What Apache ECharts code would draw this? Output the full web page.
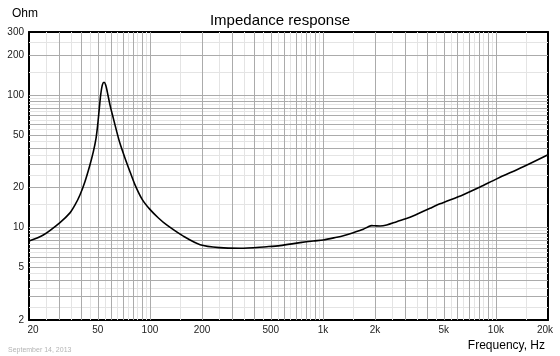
<!DOCTYPE html>
<html>
<head>
<meta charset="utf-8">
<script src="https://cdn.jsdelivr.net/npm/echarts@6/dist/echarts.min.js"></script>
<style>
html,body{margin:0;padding:0;background:#fff;}
#chart{width:560px;height:356px;}
</style>
</head>
<body>
<div id="chart"></div>
<script>
// ---- data ----
const freqHz = [20, 24.2, 30.2, 34.5, 36.9, 39.4, 42.1, 45, 47.1, 48.8, 49.9, 51, 51.9, 53.1, 54.3, 55.5, 56.7, 58.8, 61.4, 64.3, 67.1, 71.8, 76.7, 82, 90, 100, 112, 125, 156, 195, 254, 332, 473, 565, 737, 880, 1005, 1200, 1312, 1498, 1712, 1830, 1914, 2000, 2138, 2337, 2670, 3188, 4160, 4750, 6476, 8090, 10100, 14390, 20000];
const impedanceOhm = [7.9, 8.78, 10.9, 12.9, 14.8, 17.6, 22.2, 29.7, 37.4, 47.2, 59.6, 79.7, 100, 119.5, 125, 119.5, 106, 84, 67, 53, 43.3, 33.4, 26.4, 21.0, 16.4, 13.7, 11.8, 10.45, 8.6, 7.42, 7.04, 6.97, 7.16, 7.29, 7.68, 7.91, 8.05, 8.44, 8.67, 9.14, 9.70, 10.14, 10.33, 10.30, 10.27, 10.45, 11.07, 11.94, 13.98, 15.1, 17.7, 20.2, 23.3, 28.8, 35.5];

const xTickValues = [20, 50, 100, 200, 500, 1000, 2000, 5000, 10000, 20000];
const xTickLabels = ['20', '50', '100', '200', '500', '1k', '2k', '5k', '10k', '20k'];
const yTickValues = [2, 5, 10, 20, 50, 100, 200, 300];
const yTickLabels = ['2', '5', '10', '20', '50', '100', '200', '300'];

const xMin = 20, xMax = 20000, yMin = 2, yMax = 300;

// grid line values: whole steps (darker) and half steps (lighter) within each decade
function gridValues(lo, hi, half) {
  const out = [];
  for (let dec = 1; dec <= 100000; dec *= 10) {
    for (let m = 1; m <= 9.5; m += 0.5) {
      const isHalf = (m % 1) !== 0;
      if (isHalf !== half) continue;
      const v = +(m * dec).toPrecision(6);
      if (v > lo && v < hi) out.push(v);
    }
  }
  return out;
}
const xMajorGrid = gridValues(xMin, xMax, false);
const xMinorGrid = gridValues(xMin, xMax, true);
const yMajorGrid = gridValues(yMin, yMax, false);
const yMinorGrid = gridValues(yMin, yMax, true);

const FONT = 'Liberation Sans, Arial, sans-serif';

const chart = echarts.init(document.getElementById('chart'), null, {renderer: 'canvas'});

function gridSeries(xs, ys, color, z) {
  return {
    type: 'line', data: [], z: z, silent: true,
    markLine: {
      silent: true, symbol: ['none', 'none'], animation: false,
      label: {show: false},
      lineStyle: {color: color, width: 1, type: 'solid'},
      emphasis: {disabled: true},
      data: xs.map(v => ({xAxis: v})).concat(ys.map(v => ({yAxis: v})))
    }
  };
}

// edge labels are nudged inward like the reference
const xLabelItems = xTickValues.map((v, i) => {
  const item = {xAxis: v, name: xTickLabels[i]};
  if (i === 0) item.label = {offset: [4, 0]};
  if (i === xTickValues.length - 1) item.label = {offset: [-3, 0]};
  return item;
});
const yLabelItems = yTickValues.map((v, i) => ({yAxis: v, name: yTickLabels[i]}));

const option = {
  animation: false,
  backgroundColor: '#fff',
  title: [
    {text: 'Impedance response', left: 'center', top: 8,
     textStyle: {fontFamily: FONT, fontSize: 15, fontWeight: 'normal', color: '#000'}},
    {text: 'Ohm', left: 7, top: 3,
     textStyle: {fontFamily: FONT, fontSize: 12, fontWeight: 'normal', color: '#000'}},
    {text: 'Frequency, Hz', right: 10, top: 335,
     textStyle: {fontFamily: FONT, fontSize: 12, fontWeight: 'normal', color: '#000'}},
    {text: 'September 14, 2013', left: 3, top: 342,
     textStyle: {fontFamily: FONT, fontSize: 7, fontWeight: 'normal', color: '#b4b4b4'}}
  ],
  grid: {left: 29, right: 12, top: 32, bottom: 36, show: false},
  xAxis: [
    {type: 'log', logBase: 10, min: xMin, max: xMax, position: 'bottom',
     axisLine: {show: true, onZero: false, lineStyle: {color: '#000', width: 2}},
     axisTick: {show: false}, axisLabel: {show: false}, splitLine: {show: false}, minorSplitLine: {show: false}},
    {type: 'log', logBase: 10, min: xMin, max: xMax, position: 'top',
     axisLine: {show: true, onZero: false, lineStyle: {color: '#000', width: 2}},
     axisTick: {show: false}, axisLabel: {show: false}, splitLine: {show: false}}
  ],
  yAxis: [
    {type: 'log', logBase: 10, min: yMin, max: yMax, position: 'left',
     axisLine: {show: true, onZero: false, lineStyle: {color: '#000', width: 2}},
     axisTick: {show: false}, axisLabel: {show: false}, splitLine: {show: false}},
    {type: 'log', logBase: 10, min: yMin, max: yMax, position: 'right',
     axisLine: {show: true, onZero: false, lineStyle: {color: '#000', width: 2}},
     axisTick: {show: false}, axisLabel: {show: false}, splitLine: {show: false}}
  ],
  series: [
    gridSeries(xMinorGrid, yMinorGrid, '#e4e4e4', 1),
    gridSeries(xMajorGrid, yMajorGrid, '#ababab', 2),
    {
      type: 'line', data: [], z: 3, silent: true,
      markLine: {
        silent: true, symbol: ['none', 'none'], animation: false,
        lineStyle: {color: 'rgba(0,0,0,0)', width: 1},
        label: {show: true, position: 'start', formatter: '{b}', distance: 5,
                fontFamily: FONT, fontSize: 10, color: '#222'},
        emphasis: {disabled: true},
        data: xLabelItems.concat(yLabelItems)
      }
    },
    {
      type: 'line', z: 5, silent: true,
      data: freqHz.map((f, i) => [f, impedanceOhm[i]]),
      symbol: 'none', smooth: 0.3,
      lineStyle: {color: '#000', width: 1.6}
    }
  ]
};
chart.setOption(option);
</script>
</body>
</html>
